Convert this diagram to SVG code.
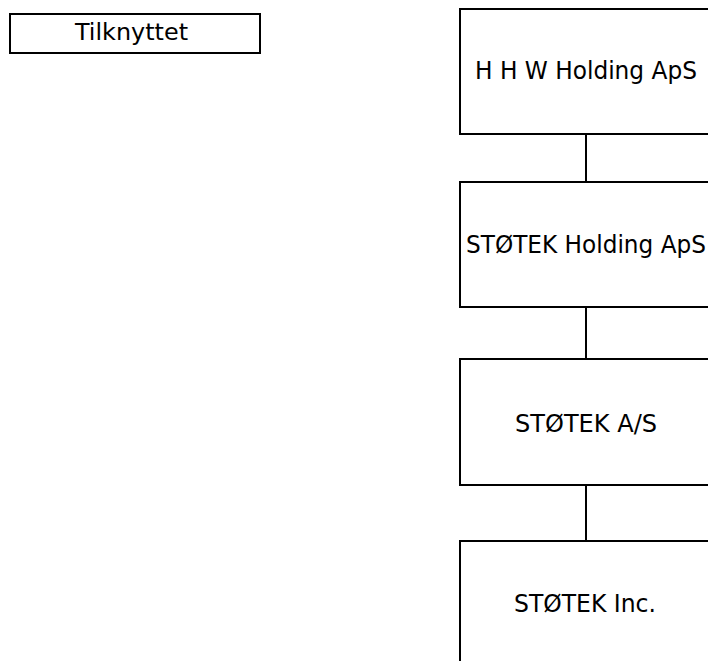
<svg xmlns="http://www.w3.org/2000/svg" width="708" height="661" viewBox="0 0 708 661">
<style>
.box{fill:#fff;stroke:#000;stroke-width:2}
.lbl{font-family:"DejaVu Sans","Liberation Sans",sans-serif;font-size:25px;fill:#000;text-anchor:middle}
.conn{stroke:#000;stroke-width:2;fill:none}
</style>
<rect width="708" height="661" fill="#fff"/>
<g id="legend">
<rect class="box" x="10" y="14" width="250" height="39"/>
<text class="lbl" x="131.5" y="40" style="font-size:23px" textLength="113" lengthAdjust="spacingAndGlyphs">Tilknyttet</text>
</g>
<g id="connectors">
<line class="conn" x1="586" y1="134" x2="586" y2="182"/>
<line class="conn" x1="586" y1="307" x2="586" y2="359"/>
<line class="conn" x1="586" y1="485" x2="586" y2="541"/>
</g>
<g id="hhw">
<rect class="box" x="460" y="9" width="249" height="125"/>
<text class="lbl" x="586" y="78.5" textLength="222" lengthAdjust="spacingAndGlyphs">H H W Holding ApS</text>
</g>
<g id="stotek-holding">
<rect class="box" x="460" y="182" width="249" height="125"/>
<text class="lbl" x="586" y="253" textLength="240" lengthAdjust="spacingAndGlyphs">STØTEK Holding ApS</text>
</g>
<g id="stotek-as">
<rect class="box" x="460" y="359" width="249" height="126"/>
<text class="lbl" x="586" y="432" textLength="142" lengthAdjust="spacingAndGlyphs">STØTEK A/S</text>
</g>
<g id="stotek-inc">
<rect class="box" x="460" y="541" width="249" height="126"/>
<text class="lbl" x="585" y="612" textLength="142" lengthAdjust="spacingAndGlyphs">STØTEK Inc.</text>
</g>
</svg>
